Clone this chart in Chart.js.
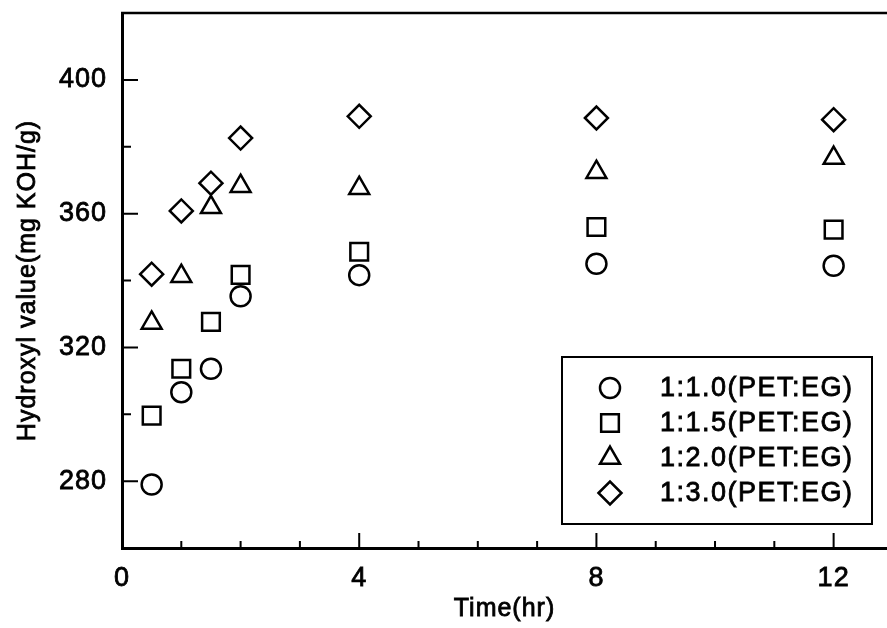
<!DOCTYPE html>
<html>
<head>
<meta charset="utf-8">
<script src="https://cdn.jsdelivr.net/npm/chart.js@4.4.1/dist/chart.umd.min.js"></script>
<style>
  html, body { margin: 0; padding: 0; background: #fff; overflow: hidden; }
  #chart { display: block; }
</style>
</head>
<body>
<canvas id="chart" width="887" height="628"></canvas>
<script>
const times = [0.5, 1, 1.5, 2, 4, 8, 12];
const ratio10 = [279, 306.6, 313.6, 335.3, 341.6, 345, 344.4];
const ratio15 = [299.6, 313.6, 327.6, 341.7, 348.6, 356, 355.2];
const ratio20 = [327.3, 341.3, 361.9, 368.2, 367.6, 372.4, 376.6];
const ratio30 = [341.9, 360.8, 369.1, 382.6, 389.1, 388.6, 388.1];
const labels = ['1:1.0(PET:EG)', '1:1.5(PET:EG)', '1:2.0(PET:EG)', '1:3.0(PET:EG)'];
const xTicks = [0, 4, 8, 12];
const yTicks = [280, 320, 360, 400];
const xTitle = 'Time(hr)';
const yTitle = 'Hydroxyl value(mg KOH/g)';

const ctx = document.getElementById('chart').getContext('2d');
const font = '"Liberation Sans", Arial, sans-serif';

const toPoints = vals => times.map((t, i) => ({x: t, y: vals[i]}));

const styles = [
  {pointStyle: 'circle', radius: 10},
  {pointStyle: 'rect', radius: 12.5},
  {pointStyle: 'triangle', radius: 11.5},
  {pointStyle: 'rectRot', radius: 11.5}
];

const datasets = [ratio10, ratio15, ratio20, ratio30].map((vals, i) => ({
  label: labels[i],
  data: toPoints(vals),
  pointStyle: styles[i].pointStyle,
  pointRadius: styles[i].radius,
  pointHoverRadius: styles[i].radius,
  pointBorderWidth: 2.5,
  pointBorderColor: '#000',
  pointBackgroundColor: 'rgba(255,255,255,0)',
  showLine: false
}));

// no extra room for edge labels, the frame fills the canvas
const noPad = s => {
  s.paddingLeft = 0; s.paddingRight = 0;
  s.paddingTop = 0; s.paddingBottom = 0;
};

// slightly heavy text, like the scanned figure
function heavyText(ctx, text, x, y) {
  ctx.fillText(text, x, y);
  ctx.lineWidth = 0.8;
  ctx.strokeText(text, x, y);
}

// inward ticks, top frame, axis titles and boxed legend
const framePlugin = {
  id: 'frame',
  beforeDraw(chart) {
    chart.ctx.letterSpacing = '1px';
  },
  afterDraw(chart) {
    const {ctx, chartArea: a, scales: {x, y}} = chart;
    ctx.save();
    ctx.strokeStyle = '#000';
    ctx.lineWidth = 2;
    ctx.beginPath();
    for (let v = 260; v <= 420; v += 20) {
      const py = y.getPixelForValue(v);
      const len = yTicks.includes(v) ? 16 : 9;
      ctx.moveTo(a.left, py);
      ctx.lineTo(a.left + len, py);
    }
    for (let v = 1; v <= 12; v += 1) {
      const px = x.getPixelForValue(v);
      const len = xTicks.includes(v) ? 15 : 7;
      ctx.moveTo(px, a.bottom);
      ctx.lineTo(px, a.bottom - len);
    }
    ctx.stroke();

    ctx.lineWidth = 2.5;
    ctx.beginPath();
    ctx.moveTo(a.left - 1, a.top);
    ctx.lineTo(a.right, a.top);
    ctx.stroke();

    // axis titles
    ctx.fillStyle = '#000';
    ctx.font = '25px ' + font;
    ctx.letterSpacing = '1px';
    ctx.textAlign = 'center';
    ctx.textBaseline = 'middle';
    heavyText(ctx, xTitle, (a.left + a.right) / 2, 609);
    ctx.save();
    ctx.translate(28, (a.top + a.bottom) / 2);
    ctx.rotate(-Math.PI / 2);
    heavyText(ctx, yTitle, 0, 0);
    ctx.restore();

    // legend box
    const bx = 562, by = 357, bw = 310, bh = 167;
    ctx.lineWidth = 2;
    ctx.fillStyle = '#fff';
    ctx.fillRect(bx, by, bw, bh);
    ctx.strokeRect(bx, by, bw, bh);
    ctx.font = '27px ' + font;
    ctx.letterSpacing = '1.5px';
    ctx.textAlign = 'left';
    ctx.textBaseline = 'middle';
    chart.data.datasets.forEach((ds, i) => {
      const cy = by + 31 + i * 35;
      ctx.lineWidth = 2.5;
      ctx.strokeStyle = '#000';
      ctx.fillStyle = '#fff';
      Chart.helpers.drawPoint(ctx, {
        pointStyle: ds.pointStyle,
        radius: ds.pointRadius,
        borderWidth: 2.5
      }, bx + 48, cy);
      ctx.fillStyle = '#000';
      heavyText(ctx, ds.label, bx + 98, cy + 1);
    });
    ctx.restore();
  }
};

new Chart(ctx, {
  type: 'scatter',
  data: { datasets },
  options: {
    responsive: false,
    animation: false,
    layout: { autoPadding: false, padding: { top: 13, left: 0, right: 0, bottom: 0 } },
    plugins: {
      legend: { display: false },
      tooltip: { enabled: false }
    },
    scales: {
      x: {
        type: 'linear',
        min: 0,
        max: 12.9,
        afterFit: s => { s.height = 80; noPad(s); },
        afterBuildTicks: s => { s.ticks = xTicks.map(v => ({value: v})); },
        grid: { display: false, drawTicks: false },
        border: { display: true, color: '#000', width: 3 },
        ticks: {
          color: '#000',
          padding: 14,
          font: { family: font, size: 27 },
          textStrokeColor: '#000',
          textStrokeWidth: 0.8,
          maxRotation: 0
        }
      },
      y: {
        min: 260,
        max: 420,
        afterFit: s => { s.width = 122; noPad(s); },
        afterBuildTicks: s => { s.ticks = yTicks.map(v => ({value: v})); },
        grid: { display: false, drawTicks: false },
        border: { display: true, color: '#000', width: 3 },
        ticks: {
          color: '#000',
          padding: 15,
          font: { family: font, size: 27 },
          textStrokeColor: '#000',
          textStrokeWidth: 0.8
        }
      }
    }
  },
  plugins: [framePlugin]
});
</script>
</body>
</html>
